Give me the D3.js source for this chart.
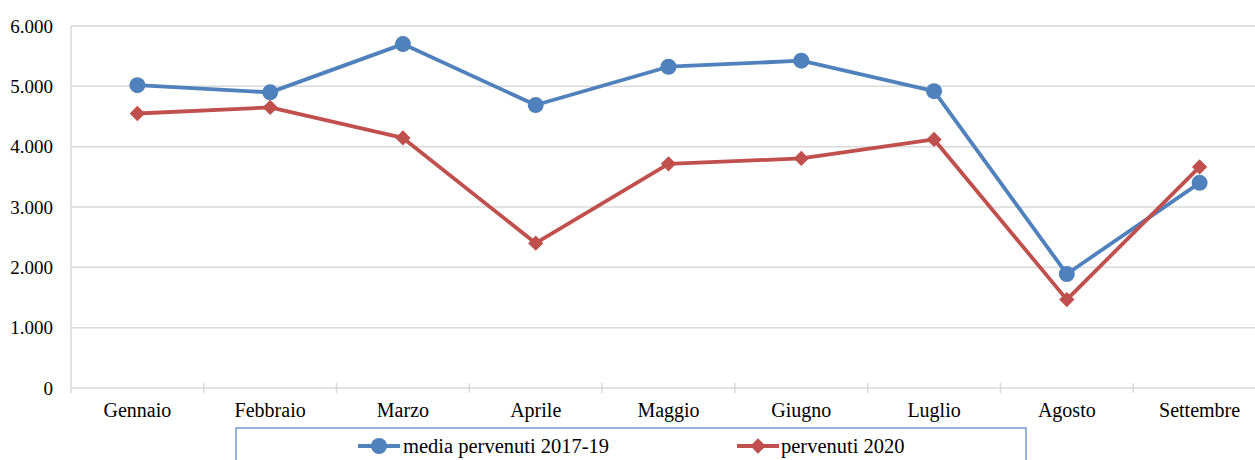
<!DOCTYPE html>
<html>
<head>
<meta charset="utf-8">
<script src="https://cdn.jsdelivr.net/npm/d3@7"></script>
<style>
  html, body { margin: 0; padding: 0; background: #fff; overflow: hidden; }
  svg { display: block; }
</style>
</head>
<body>
<script>
// Monthly counts: three-year average vs. 2020
const months = ["Gennaio", "Febbraio", "Marzo", "Aprile", "Maggio", "Giugno", "Luglio", "Agosto", "Settembre"];
const media2017_19 = [5020, 4900, 5700, 4690, 5325, 5425, 4920, 1890, 3400];
const pervenuti2020 = [4550, 4650, 4145, 2400, 3715, 3805, 4120, 1465, 3665];
const yTicks = [0, 1000, 2000, 3000, 4000, 5000, 6000];
const seriesNames = ["media pervenuti 2017-19", "pervenuti 2020"];

const W = 1255, H = 460;
const plotL = 71, plotR = 1266, plotT = 26, plotB = 388;
const FONT = "'Liberation Serif', 'DejaVu Serif', serif";

const svg = d3.select("body").append("svg").attr("width", W).attr("height", H)
  .attr("font-family", FONT);

const x = d3.scaleBand().domain(months).range([plotL, plotR]).padding(0);
const y = d3.scaleLinear().domain([0, 6000]).range([plotB, plotT]);

const fmt = v => d3.format(",")(v).replace(/,/g, ".");

// horizontal gridlines
svg.append("g").selectAll("line").data(yTicks.filter(d => d > 0)).join("line")
  .attr("x1", plotL).attr("x2", plotR)
  .attr("y1", d => y(d)).attr("y2", d => y(d))
  .attr("stroke", "#d9d9d9").attr("stroke-width", 1.5);

// y axis
const yAxis = svg.append("g").attr("transform", `translate(${plotL},0)`)
  .call(d3.axisLeft(y).tickValues(yTicks).tickFormat(fmt).tickSize(0).tickPadding(18));
yAxis.attr("font-family", FONT).attr("font-size", 19);
yAxis.select(".domain").attr("stroke", "#d9d9d9").attr("stroke-width", 1.5)
  .attr("d", `M0,${plotT}V${plotB + 5}`);
yAxis.selectAll("text").attr("fill", "#000").attr("dy", "0.33em");

// x axis with boundary ticks crossing the axis line
const xg = svg.append("g").attr("transform", `translate(0,${plotB})`);
xg.append("line").attr("x1", plotL).attr("x2", plotR).attr("y1", 0).attr("y2", 0)
  .attr("stroke", "#d9d9d9").attr("stroke-width", 1.5);
const bounds = months.map(m => x(m)).concat([plotR]);
xg.selectAll("line.tk").data(bounds.slice(1)).join("line").attr("class", "tk")
  .attr("x1", d => d).attr("x2", d => d).attr("y1", -5).attr("y2", 5)
  .attr("stroke", "#d9d9d9").attr("stroke-width", 1.5);
xg.selectAll("text").data(months).join("text")
  .attr("x", d => x(d) + x.bandwidth() / 2).attr("y", 29)
  .attr("text-anchor", "middle").attr("font-size", 20).attr("fill", "#000")
  .text(d => d);

const cx = d => x(d) + x.bandwidth() / 2;
const line = d3.line().x((d, i) => cx(months[i])).y(d => y(d));

const blue = "#4f81bd", red = "#c0504d";
const diamond = d3.symbol().type(d3.symbolDiamond2).size(150);

// average series
svg.append("path").datum(media2017_19).attr("d", line)
  .attr("fill", "none").attr("stroke", blue).attr("stroke-width", 3.8).attr("stroke-linejoin", "round");
svg.append("g").selectAll("circle").data(media2017_19).join("circle")
  .attr("cx", (d, i) => cx(months[i])).attr("cy", d => y(d)).attr("r", 8).attr("fill", blue);

// 2020 series
svg.append("path").datum(pervenuti2020).attr("d", line)
  .attr("fill", "none").attr("stroke", red).attr("stroke-width", 3.8).attr("stroke-linejoin", "round");
svg.append("g").selectAll("path").data(pervenuti2020).join("path")
  .attr("transform", (d, i) => `translate(${cx(months[i])},${y(d)})`)
  .attr("d", diamond).attr("fill", red);

// legend
const lg = svg.append("g");
lg.append("rect").attr("x", 236).attr("y", 428).attr("width", 790).attr("height", 60)
  .attr("fill", "none").attr("stroke", "#4f81bd").attr("stroke-width", 1.2);
const legendItems = [
  { name: seriesNames[0], color: blue, x0: 358, x1: 400, tx: 403, shape: "circle" },
  { name: seriesNames[1], color: red, x0: 737, x1: 779, tx: 781, shape: "diamond" }
];
const ly = 446;
legendItems.forEach(it => {
  lg.append("line").attr("x1", it.x0).attr("x2", it.x1).attr("y1", ly).attr("y2", ly)
    .attr("stroke", it.color).attr("stroke-width", 3.8);
  const mx = (it.x0 + it.x1) / 2;
  if (it.shape === "circle") {
    lg.append("circle").attr("cx", mx).attr("cy", ly).attr("r", 8).attr("fill", it.color);
  } else {
    lg.append("path").attr("transform", `translate(${mx},${ly})`).attr("d", diamond).attr("fill", it.color);
  }
  lg.append("text").attr("x", it.tx).attr("y", ly + 7).attr("font-size", 20.5)
    .attr("fill", "#000").text(it.name);
});
</script>
</body>
</html>
